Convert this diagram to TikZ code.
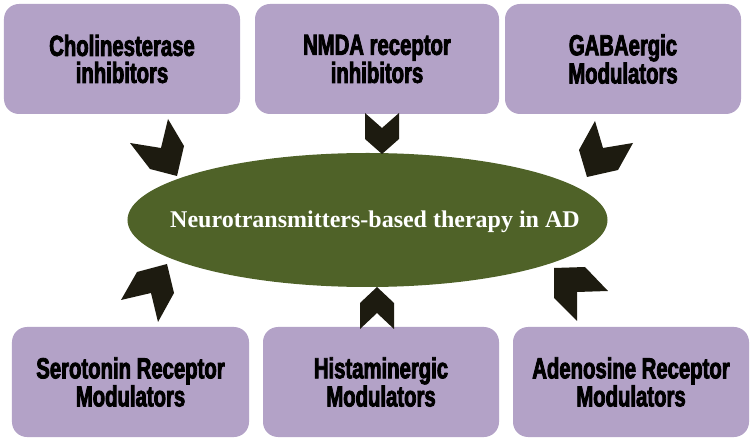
\documentclass[tikz,border=0pt]{standalone}
\usepackage{fontspec}
\setmainfont{Liberation Serif}
\newfontfamily\boxfont[FakeStretch=0.7,FakeBold=2.8]{Liberation Sans}
\usetikzlibrary{shapes.geometric}
\definecolor{boxfill}{HTML}{B3A2C7}
\definecolor{ellfill}{HTML}{4F6228}
\definecolor{chev}{HTML}{1D1B10}
\begin{document}
\begin{tikzpicture}[x=1bp,y=-1bp,
  agent/.style={rectangle, rounded corners=15bp, fill=boxfill, minimum width=236bp,
    minimum height=110bp, inner sep=0pt, align=center,
    font=\boxfont\bfseries\fontsize{29bp}{27bp}\selectfont},
  hub/.style={ellipse, fill=ellfill, minimum width=480bp, minimum height=134bp, inner sep=0pt},
  hubtext/.style={text=white, font=\bfseries\fontsize{24bp}{28bp}\selectfont, inner sep=0pt},
  chevron/.style={fill=chev}]
\useasboundingbox (0,0) rectangle (754,442);
% boxes
\node[agent] (b1) at (122,59) {Cholinesterase\\inhibitors};
\node[agent, minimum width=244bp] (b2) at (377,59) {NMDA receptor\\inhibitors};
\node[agent] (b3) at (623,59) {GABAergic\\Modulators};
\node[agent, minimum width=237bp] (b4) at (130.5,382) {Serotonin Receptor\\Modulators};
\node[agent] (b5) at (381,382) {Histaminergic\\Modulators};
\node[agent] (b6) at (631,382) {Adenosine Receptor\\Modulators};
% central ellipse
\node[hub] (hub) at (367.5,220) {};
\node[hubtext] (hubt) at (375,222) {Neurotransmitters-based therapy in AD};
% chevrons
\fill[chevron] (130,143) -- (161,148) -- (168,119) -- (184,146) -- (177,176) -- (150,169) -- cycle;
\fill[chevron] (365,113) -- (382,128) -- (399,113) -- (399,139) -- (382,154) -- (365,139) -- cycle;
\fill[chevron] (595,121) -- (603,148) -- (633,143) -- (618,170) -- (587,177) -- (579,150) -- cycle;
\fill[chevron] (121,300) -- (151,293) -- (158,322) -- (174,293) -- (167,264) -- (137,272) -- cycle;
\fill[chevron] (360,329) -- (377,313) -- (394,329) -- (394,303) -- (377,287) -- (360,303) -- cycle;
\fill[chevron] (608,291) -- (577,292) -- (577,321) -- (554,298) -- (554,268) -- (585,267) -- cycle;
\end{tikzpicture}
\end{document}
